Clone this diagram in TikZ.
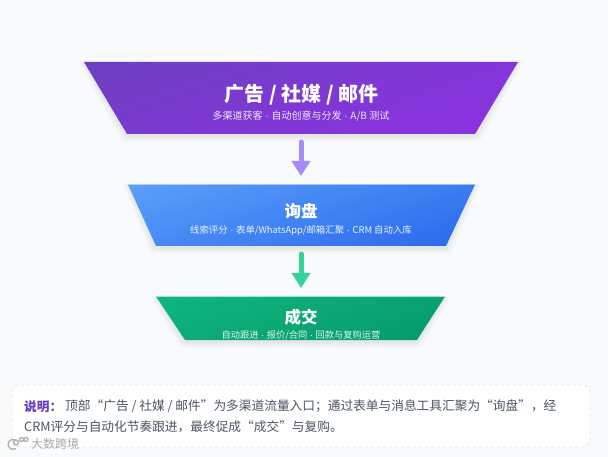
\documentclass[tikz,border=0pt]{standalone}
\usepackage{fontspec}
\setmainfont{Noto Sans CJK SC}
\newfontfamily\dotfont{Liberation Sans}
\usetikzlibrary{arrows.meta,calc}
\definecolor{pagebg}{HTML}{F8FAFC}
\definecolor{violetA}{HTML}{6A41BE}
\definecolor{violetB}{HTML}{9030E6}
\definecolor{blueA}{HTML}{60A5FA}
\definecolor{blueB}{HTML}{2563EB}
\definecolor{greenA}{HTML}{10B981}
\definecolor{greenB}{HTML}{059669}
\definecolor{arrowV}{HTML}{A78BFA}
\definecolor{arrowG}{HTML}{34D399}
\definecolor{noteText}{HTML}{4B5563}
\definecolor{noteEdge}{HTML}{E2E6EC}
\definecolor{noteHead}{HTML}{6B3FC0}
\newcommand{\sep}{{\dotfont\ ·\ }}
\tikzset{
  x=1pt,y=-1pt,
  tier/.style={minimum width=#1,minimum height=1pt,inner sep=0pt,outer sep=0pt},
  tiertitle/.style={text=white,font=\fontsize{#1}{#1}\selectfont\bfseries,inner sep=0pt,anchor=center},
  tiersub/.style={text=white,opacity=.88,font=\fontsize{#1}{10}\selectfont,inner sep=0pt,anchor=center},
  flow/.style={line width=5pt,line cap=round,-{Triangle[length=15pt,width=18pt]},shorten <=7.5pt,shorten >=8pt},
  noteline/.style={text=noteText,font=\fontsize{12.7}{14}\selectfont,inner sep=0pt,anchor=west},
}
\newcommand{\softshadow}[8]{%
  \foreach \g in {5,3.5,2,1}{
    \fill[black,opacity=.018] (#1-\g,#2) -- (#3+\g,#2) -- (#5+\g,#6+\g+2) -- (#7-\g,#6+\g+2) -- cycle;
  }}
\begin{document}
\begin{tikzpicture}
\useasboundingbox (0,0) rectangle (608,457);
\fill[pagebg] (0,0) rectangle (608,457);

% tier anchors
\node[tier=434pt] (t1) at (301,62) {};
\node[tier=348pt] (b1) at (301,134) {};
\node[tier=347pt] (t2) at (301,184.5) {};
\node[tier=290pt] (b2) at (301,246) {};
\node[tier=289pt] (t3) at (301,296.5) {};
\node[tier=232pt] (b3) at (301,340) {};

% shadows
\softshadow{84}{62}{518}{62}{475}{134}{127}{134}
\softshadow{128}{184.5}{475}{184.5}{446}{246}{156}{246}
\softshadow{156}{296.5}{445}{296.5}{417}{340}{185}{340}

% tier 1
\begin{scope}
\clip (84,62) -- (518,62) -- (475,134) -- (127,134) -- cycle;
\shade[top color=violetA,bottom color=violetB,shading angle=18] (60,20) rectangle (540,170);
\draw[white,opacity=.4,line width=1pt] (84,62) -- (518,62);
\end{scope}
\node[tiertitle=20] (h1) at (301.5,95) {广告 / 社媒 / 邮件};
\node[tiersub=10] (s1) at (301,116) {多渠道获客\sep 自动创意与分发\sep A/B 测试};

% tier 2
\begin{scope}
\clip (128,184.5) -- (475,184.5) -- (446,246) -- (156,246) -- cycle;
\shade[top color=blueA,bottom color=blueB,shading angle=18] (100,150) rectangle (500,280);
\draw[white,opacity=.4,line width=1pt] (128,184.5) -- (475,184.5);
\end{scope}
\node[tiertitle=16.5] (h2) at (301,211) {询盘};
\node[tiersub=9.4] (s2) at (301,231) {线索评分\sep 表单/WhatsApp/邮箱汇聚\sep CRM 自动入库};

% tier 3
\begin{scope}
\clip (156,296.5) -- (445,296.5) -- (417,340) -- (185,340) -- cycle;
\shade[top color=greenA,bottom color=greenB,shading angle=18] (130,270) rectangle (470,365);
\draw[white,opacity=.4,line width=1pt] (156,296.5) -- (445,296.5);
\node[tiertitle=16.5] (h3) at (301,317) {成交};
\node[tiersub=9.25] (s3) at (301,335.5) {自动跟进\sep 报价/合同\sep 回款与复购运营};
\end{scope}

% connectors
\draw[flow,arrowV] (b1) -- (t2);
\draw[flow,arrowG] (b2) -- (t3);

% note
\node[draw=noteEdge,dashed,line width=.8pt,fill=white,rounded corners=8pt,minimum width=578pt,minimum height=62pt,inner sep=0pt] (note) at (301,416) {};
\node[noteline,text=noteHead,font=\fontsize{12.7}{14}\selectfont\bfseries] (nh) at (24,406.5) {说明：};
\node[noteline] (n1) at (65,406.5) {顶部“广告 / 社媒 / 邮件”为多渠道流量入口；通过表单与消息工具汇聚为“询盘”，经};
\node[noteline] (n2) at (24,426.5) {CRM评分与自动化节奏跟进，最终促成“成交”与复购。};

% watermark
\node[text=gray!85,opacity=.8,font=\fontsize{12}{12}\selectfont,inner sep=0pt,anchor=west] (wm) at (31,444) {大数跨境};
\draw[gray!75,opacity=.8,line width=1.4pt,line cap=round] (15.5,440) arc[start angle=60,end angle=300,radius=5pt] (16,442.5) circle (2.5pt) (21.5,439.5) circle (2pt) (26,439.5) circle (2pt);
\end{tikzpicture}
\end{document}
